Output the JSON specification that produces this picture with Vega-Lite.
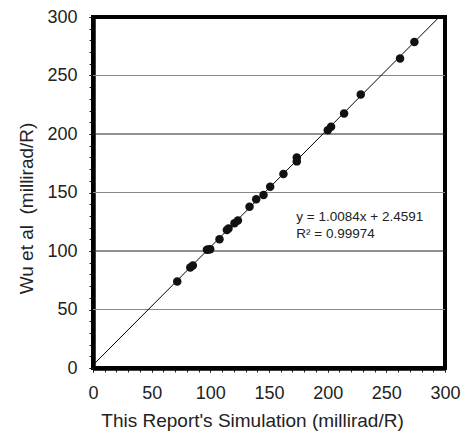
{
  "$schema": "https://vega.github.io/schema/vega-lite/v6.json",
  "width": 352,
  "height": 351,
  "autosize": "none",
  "padding": {"left": 93, "top": 17, "right": 21, "bottom": 67},
  "background": "white",
  "config": {
    "font": "Liberation Sans",
    "view": {"stroke": "black", "strokeWidth": 4},
    "axis": {
      "domainColor": "black",
      "domainWidth": 4,
      "tickColor": "#222",
      "tickWidth": 1,
      "tickSize": 4,
      "labelFont": "Liberation Sans",
      "labelFontSize": 18,
      "labelColor": "#222",
      "labelOverlap": false,
      "titleFont": "Liberation Sans",
      "titleFontSize": 19,
      "titleFontWeight": "normal",
      "titleColor": "#222",
      "grid": false
    }
  },
  "datasets": {
    "points": [
      {"sim": 71.8, "wu": 73.9},
      {"sim": 82.9, "wu": 85.9},
      {"sim": 85.1, "wu": 87.6},
      {"sim": 97.1, "wu": 101.0},
      {"sim": 98.5, "wu": 101.3},
      {"sim": 99.9, "wu": 101.5},
      {"sim": 107.8, "wu": 110.0},
      {"sim": 114.1, "wu": 118.0},
      {"sim": 115.5, "wu": 119.2},
      {"sim": 120.6, "wu": 123.7},
      {"sim": 123.5, "wu": 126.0},
      {"sim": 133.4, "wu": 137.9},
      {"sim": 139.1, "wu": 144.2},
      {"sim": 145.3, "wu": 147.9},
      {"sim": 151.0, "wu": 155.0},
      {"sim": 162.3, "wu": 165.8},
      {"sim": 173.7, "wu": 180.0},
      {"sim": 173.7, "wu": 176.6},
      {"sim": 200.1, "wu": 203.3},
      {"sim": 202.9, "wu": 206.2},
      {"sim": 214.0, "wu": 217.6},
      {"sim": 228.2, "wu": 233.8},
      {"sim": 261.7, "wu": 264.5},
      {"sim": 273.9, "wu": 278.7}
    ],
    "fit": [
      {"sim": 0, "wu": 2.4591},
      {"sim": 295.1, "wu": 300}
    ],
    "grid": [
      {"v": 50}, {"v": 100}, {"v": 150}, {"v": 200}, {"v": 250}
    ],
    "notes": [
      {"sim": 173.3, "wu": 125.9, "label": "y = 1.0084x + 2.4591"},
      {"sim": 173.3, "wu": 111.1, "label": "R² = 0.99974"}
    ]
  },
  "resolve": {"axis": {"x": "independent", "y": "independent"}},
  "layer": [
    {
      "data": {"name": "grid"},
      "mark": {"type": "rule", "strokeWidth": 1},
      "encoding": {
        "y": {
          "field": "v",
          "type": "quantitative",
          "scale": {"domain": [0, 300], "nice": false},
          "axis": {
            "orient": "left",
            "title": null,
            "values": [0,10,20,30,40,50,60,70,80,90,100,110,120,130,140,150,160,170,180,190,200,210,220,230,240,250,260,270,280,290,300],
            "labels": false
          }
        },
        "color": {
          "condition": {"test": "datum.v % 100 == 0", "value": "#222"},
          "value": "#888"
        }
      }
    },
    {
      "data": {"name": "fit"},
      "mark": {"type": "line", "color": "black", "strokeWidth": 1, "clip": true},
      "encoding": {
        "x": {
          "field": "sim",
          "type": "quantitative",
          "scale": {"domain": [0, 300], "nice": false},
          "axis": {
            "orient": "bottom",
            "title": null,
            "values": [0,10,20,30,40,50,60,70,80,90,100,110,120,130,140,150,160,170,180,190,200,210,220,230,240,250,260,270,280,290,300],
            "labels": false
          }
        },
        "y": {"field": "wu", "type": "quantitative", "axis": null}
      }
    },
    {
      "data": {"name": "points"},
      "mark": {"type": "circle", "color": "#111", "opacity": 1, "size": 72},
      "encoding": {
        "x": {
          "field": "sim",
          "type": "quantitative",
          "axis": {
            "orient": "bottom",
            "title": "This Report's Simulation (millirad/R)",
            "values": [0, 50, 100, 150, 200, 250, 300],
            "labelOverlap": false,
            "labelBound": false,
            "labelFlush": false,
            "labelPadding": 12,
            "titlePadding": 9,
            "titleX": 159
          }
        },
        "y": {
          "field": "wu",
          "type": "quantitative",
          "axis": {
            "orient": "left",
            "title": "Wu et al\u00a0 (millirad/R)",
            "values": [0, 50, 100, 150, 200, 250, 300],
            "labelOverlap": false,
            "labelBound": false,
            "labelPadding": 12,
            "titlePadding": 10,
            "titleY": 191
          }
        }
      }
    },
    {
      "data": {"name": "notes"},
      "mark": {"type": "text", "align": "left", "baseline": "alphabetic", "fontSize": 13.5, "color": "#222", "font": "Liberation Sans"},
      "encoding": {
        "x": {"field": "sim", "type": "quantitative", "axis": null},
        "y": {"field": "wu", "type": "quantitative", "axis": null},
        "text": {"field": "label"}
      }
    }
  ]
}
